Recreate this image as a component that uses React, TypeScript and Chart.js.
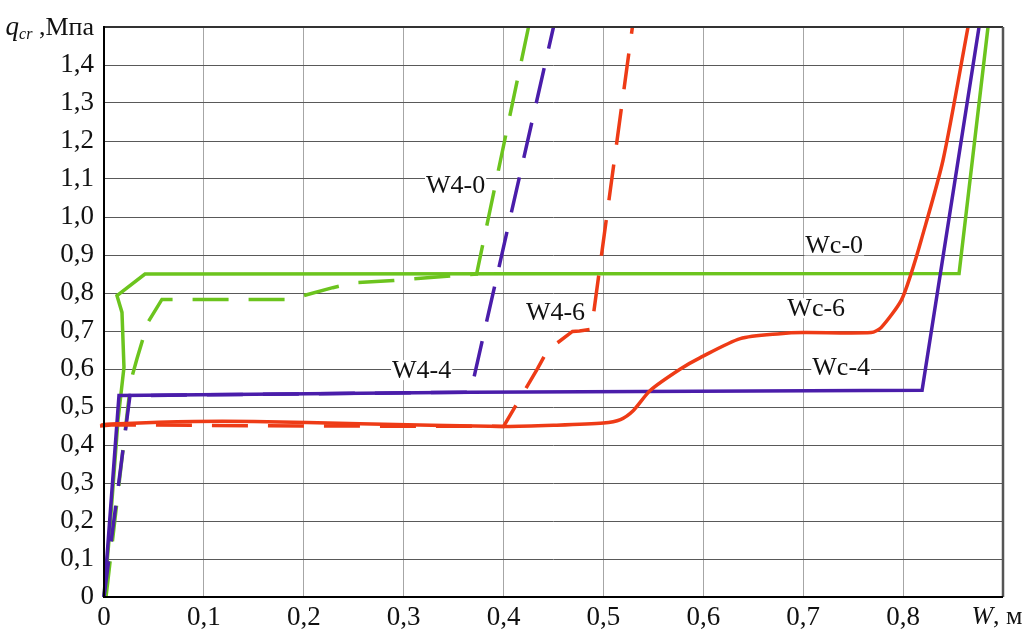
import React, { useEffect, useRef } from 'react';
import { Chart, registerables } from 'chart.js';

Chart.register(...registerables);

// ---- data ----
const xTickValues = [0, 0.1, 0.2, 0.3, 0.4, 0.5, 0.6, 0.7, 0.8];
const yTickValues = [0, 0.1, 0.2, 0.3, 0.4, 0.5, 0.6, 0.7, 0.8, 0.9, 1.0, 1.1, 1.2, 1.3, 1.4];

const wc0X = [0, 0.005, 0.014, 0.02, 0.018, 0.013, 0.041, 0.856, 0.885];
const wc0Y = [0, 0.15, 0.465, 0.605, 0.749, 0.793, 0.85, 0.851, 1.5];

const w40X = [0.002, 0.027, 0.033, 0.044, 0.058, 0.186, 0.229, 0.25, 0.29, 0.373, 0.425];
const w40Y = [0, 0.57, 0.627, 0.723, 0.783, 0.783, 0.814, 0.827, 0.833, 0.85, 1.5];

const wc4X = [0, 0.015, 0.367, 0.819, 0.876];
const wc4Y = [0, 0.53, 0.539, 0.544, 1.5];

const w44X = [0, 0.026, 0.367, 0.45];
const w44Y = [0, 0.53, 0.539, 1.5];

const wc6X = [0.006, 0.001, -0.004, -0.005, -0.007, -0.007, -0.007, -0.003, 0.015, 0.09, 0.15, 0.256, 0.4, 0.45, 0.5, 0.517, 0.53, 0.547, 0.577, 0.597, 0.637, 0.677, 0.7, 0.768, 0.778, 0.798, 0.808, 0.818, 0.84, 0.865];
const wc6Y = [0.17, 0.22, 0.26, null, 0.31, 0.4, 0.44, 0.452, 0.456, 0.462, 0.462, 0.456, 0.449, 0.452, 0.458, 0.467, 0.491, 0.544, 0.6, 0.63, 0.68, 0.693, 0.696, 0.696, 0.709, 0.78, 0.851, 0.938, 1.15, 1.5];

const w46X = [0.001, 0.006, 0.006, -0.006, -0.004, 0.01, 0.2, 0.4, 0.434, 0.444, 0.469, 0.476, 0.488, 0.529];
const w46Y = [0.026, 0.168, 0.289, 0.42, 0.45, 0.453, 0.45, 0.449, 0.601, 0.649, 0.699, 0.7, 0.705, 1.5];

const curveLabels = ['W4-0', 'W4-6', 'W4-4', 'Wc-0', 'Wc-6', 'Wc-4'];
const curveLabelX = [0.352, 0.452, 0.318, 0.731, 0.713, 0.738];
const curveLabelY = [1.085, 0.75, 0.597, 0.925, 0.76, 0.605];

const GREEN = '#6CC41E';
const PURPLE = '#4A1DAA';
const RED = '#EE3B16';
const SERIF = '"Liberation Serif", "DejaVu Serif", serif';

const toPts = (xs: number[], ys: (number | null)[]) => xs.map((x, i) => ({ x, y: ys[i] }));

const fmt = (v: number) => (Math.abs(v) < 1e-9 ? '0' : v.toFixed(1).replace('.', ','));

export default function App() {
  const ref = useRef<HTMLCanvasElement | null>(null);

  useEffect(() => {
    if (!ref.current) return;

    const labelsPlugin = {
      id: 'labelsPlugin',
      beforeDatasetsDraw(chart: any) {
        const { ctx, scales } = chart;
        const xs = scales.x;
        const ys = scales.y;
        ctx.save();
        ctx.font = `26px ${SERIF}`;
        ctx.textAlign = 'center';
        ctx.textBaseline = 'middle';
        curveLabels.forEach((t, i) => {
          const px = xs.getPixelForValue(curveLabelX[i]);
          const py = ys.getPixelForValue(curveLabelY[i]);
          const w = ctx.measureText(t).width;
          ctx.fillStyle = '#ffffff';
          ctx.fillRect(px - w / 2 - 1, py - 10, w + 2, 20);
          ctx.fillStyle = '#111';
          ctx.fillText(t, px, py + 1);
        });
        ctx.restore();
      },
      afterDraw(chart: any) {
        const { ctx, chartArea, scales } = chart;
        const { left, right, top, bottom } = chartArea;
        ctx.save();
        // borders
        ctx.strokeStyle = '#333';
        ctx.lineWidth = 2;
        ctx.beginPath();
        ctx.moveTo(left, top);
        ctx.lineTo(right, top);
        ctx.stroke();
        ctx.strokeStyle = '#555';
        ctx.lineWidth = 2.5;
        ctx.beginPath();
        ctx.moveTo(right, top);
        ctx.lineTo(right, bottom);
        ctx.stroke();
        ctx.strokeStyle = '#000';
        ctx.lineWidth = 2;
        ctx.beginPath();
        ctx.moveTo(left, top - 1);
        ctx.lineTo(left, bottom);
        ctx.lineTo(right, bottom);
        ctx.stroke();

        // y axis title  q_cr ,Мпа
        ctx.fillStyle = '#111';
        ctx.textBaseline = 'alphabetic';
        ctx.textAlign = 'left';
        const yTitleY = scales.y.getPixelForValue(1.5) + 8;
        const parts = [
          { t: 'q', f: `italic 27px ${SERIF}`, dy: 0 },
          { t: 'cr', f: `italic 16px ${SERIF}`, dy: 4 },
          { t: ' ,Мпа', f: `26px ${SERIF}`, dy: 0 },
        ];
        let total = 0;
        parts.forEach((p) => {
          ctx.font = p.f;
          total += ctx.measureText(p.t).width;
        });
        let cx = left - 10 - total;
        parts.forEach((p) => {
          ctx.font = p.f;
          ctx.fillText(p.t, cx, yTitleY + p.dy);
          cx += ctx.measureText(p.t).width;
        });

        // x axis title  W, м
        const xParts = [
          { t: 'W', f: `italic 26px ${SERIF}` },
          { t: ', м', f: `26px ${SERIF}` },
        ];
        let xt = 0;
        xParts.forEach((p) => {
          ctx.font = p.f;
          xt += ctx.measureText(p.t).width;
        });
        let xx = scales.x.getPixelForValue(0.9) - 6 - xt / 2;
        const xTitleY = bottom + 27;
        xParts.forEach((p) => {
          ctx.font = p.f;
          ctx.fillText(p.t, xx, xTitleY);
          xx += ctx.measureText(p.t).width;
        });
        ctx.restore();
      },
    };

    const common = {
      fill: false,
      pointRadius: 0,
      borderWidth: 3.5,
      tension: 0,
      spanGaps: false,
      clip: { left: 14, top: 2, right: 2, bottom: 2 },
    };

    const chart = new Chart(ref.current, {
      type: 'line',
      data: {
        datasets: [
          { ...common, label: 'Wc-6', data: toPts(wc6X, wc6Y), borderColor: RED, tension: 0.25 },
          { ...common, label: 'W4-6', data: toPts(w46X, w46Y), borderColor: RED, borderDash: [36, 20] },
          { ...common, label: 'Wc-4', data: toPts(wc4X, wc4Y), borderColor: PURPLE },
          { ...common, label: 'W4-4', data: toPts(w44X, w44Y), borderColor: PURPLE, borderDash: [36, 20] },
          { ...common, label: 'Wc-0', data: toPts(wc0X, wc0Y), borderColor: GREEN },
          { ...common, label: 'W4-0', data: toPts(w40X, w40Y), borderColor: GREEN, borderDash: [36, 20] },
        ] as any,
      },
      options: {
        animation: false,
        responsive: false,
        maintainAspectRatio: false,
        parsing: false as any,
        layout: { padding: { top: 27, right: 21, left: 0, bottom: 0 } },
        plugins: {
          legend: { display: false },
          tooltip: { enabled: false },
          title: { display: false },
        },
        scales: {
          x: {
            type: 'linear',
            min: 0,
            max: 0.9,
            afterFit: (s: any) => {
              s.height = 33;
            },
            afterBuildTicks: (s: any) => {
              s.ticks = [...xTickValues, 0.9].map((v) => ({ value: v }));
            },
            grid: { color: '#a6a6a6', lineWidth: 1, drawTicks: false },
            border: { display: false },
            ticks: {
              padding: 5,
              color: '#111',
              font: { family: SERIF, size: 27 },
              maxRotation: 0,
              autoSkip: false,
              callback: (v: any) => (Math.abs(v - 0.9) < 1e-6 ? '' : fmt(Number(v))),
            },
          },
          y: {
            type: 'linear',
            min: 0,
            max: 1.5,
            afterFit: (s: any) => {
              s.width = 104;
            },
            afterBuildTicks: (s: any) => {
              s.ticks = [...yTickValues, 1.5].map((v) => ({ value: v }));
            },
            grid: { color: '#595959', lineWidth: 1, drawTicks: false },
            border: { display: false },
            ticks: {
              padding: 10,
              color: '#111',
              font: { family: SERIF, size: 27 },
              autoSkip: false,
              callback: (v: any) => (Math.abs(v - 1.5) < 1e-6 ? '' : fmt(Number(v))),
            },
          },
        },
      } as any,
      plugins: [labelsPlugin],
    });

    return () => chart.destroy();
  }, []);

  return (
    <div style={{ position: 'absolute', left: 0, top: 0, width: 1024, height: 630, background: '#fff' }}>
      <canvas ref={ref} width={1024} height={630} style={{ display: 'block', width: 1024, height: 630 }} />
    </div>
  );
}
